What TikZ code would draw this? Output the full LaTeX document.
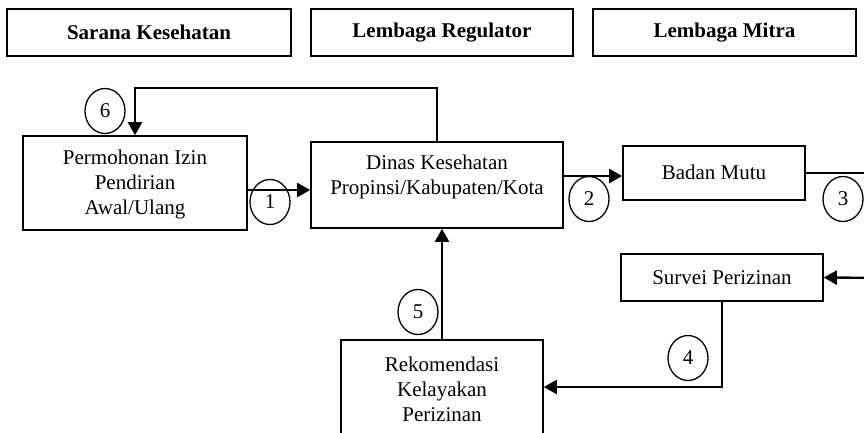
\documentclass[tikz,border=0pt]{standalone}
\usepackage{fontspec}
\setmainfont{Liberation Serif}
\usetikzlibrary{arrows.meta,shapes.geometric}
\begin{document}
\begin{tikzpicture}[x=1pt,y=-1pt,
  txt/.style={font=\fontsize{21}{25}\selectfont, align=center, inner sep=0pt},
  headbox/.style={draw, line width=1.6pt, minimum height=47pt, inner sep=0pt,
    font=\fontsize{21}{25}\selectfont\bfseries},
  procbox/.style={draw, line width=1.6pt, inner sep=0pt},
  numcirc/.style={draw, ellipse, line width=1.3pt, minimum width=40pt, minimum height=45pt,
    inner sep=0pt, font=\fontsize{21}{25}\selectfont},
  flow/.style={line width=2.4pt, -{Triangle[length=13pt,width=14pt]}},
  plain/.style={line width=2.4pt}]
\useasboundingbox (0,0) rectangle (864,433);
\clip (0,0) rectangle (864,433);

% header row
\node[headbox, minimum width=284pt] (hsarana) at (149,32.5) {Sarana Kesehatan};
\node[headbox, minimum width=262pt] (hregulator) at (442,32.5) {Lembaga Regulator};
\node[headbox, minimum width=263pt] (hmitra) at (724.5,32.5) {Lembaga Mitra};

% process boxes
\node[procbox, minimum width=224pt, minimum height=94pt] (perm) at (135,183) {};
\node[txt] (permt) at (135,184) {Permohonan Izin\\Pendirian\\Awal/Ulang};

\node[procbox, minimum width=252pt, minimum height=86pt] (dinas) at (437,185) {};
\node[txt] (dinast) at (437,177) {Dinas Kesehatan\\Propinsi/Kabupaten/Kota};

\node[procbox, minimum width=182pt, minimum height=54pt] (badan) at (714,173) {};
\node[txt] (badant) at (714,172) {Badan Mutu};

\node[procbox, minimum width=202pt, minimum height=47pt] (survei) at (722,277.5) {};
\node[txt] (surveit) at (722,278) {Survei Perizinan};

\node[procbox, minimum width=202pt, minimum height=116pt] (rek) at (442,398) {};
\node[txt] (rekt) at (442,389) {Rekomendasi\\Kelayakan\\Perizinan};

% step numbers
\node[numcirc] (c1) at (270,202) {1};
\node[numcirc] (c2) at (589,199) {2};
\node[numcirc] (c3) at (843,199) {3};
\node[numcirc] (c4) at (688,358) {4};
\node[numcirc] (c5) at (418,312) {5};
\node[numcirc] (c6) at (105,111) {6};

% helper points
\coordinate (top) at (437,88);
\coordinate (r1) at (890,173);
\coordinate (r2) at (890,278);
\coordinate (bend4) at (722,387);

% connectors
\draw[flow] ([yshift=-7pt]perm.east) -- ([yshift=-7pt]perm.east -| dinas.west);
\draw[flow] ([yshift=9pt]dinas.east) -- ([yshift=9pt]dinas.east -| badan.west);
\draw[plain] (badan.east) -- (r1) -- (r2);
\draw[flow] (r2) -- (survei.east);
\draw[flow] (survei.south) -- (bend4) -- (bend4 -| rek.east);
\draw[flow] (rek.north) -- (rek.north |- dinas.south);
\draw[flow] (dinas.north) -- (top) -| (perm.north);
\end{tikzpicture}
\end{document}
